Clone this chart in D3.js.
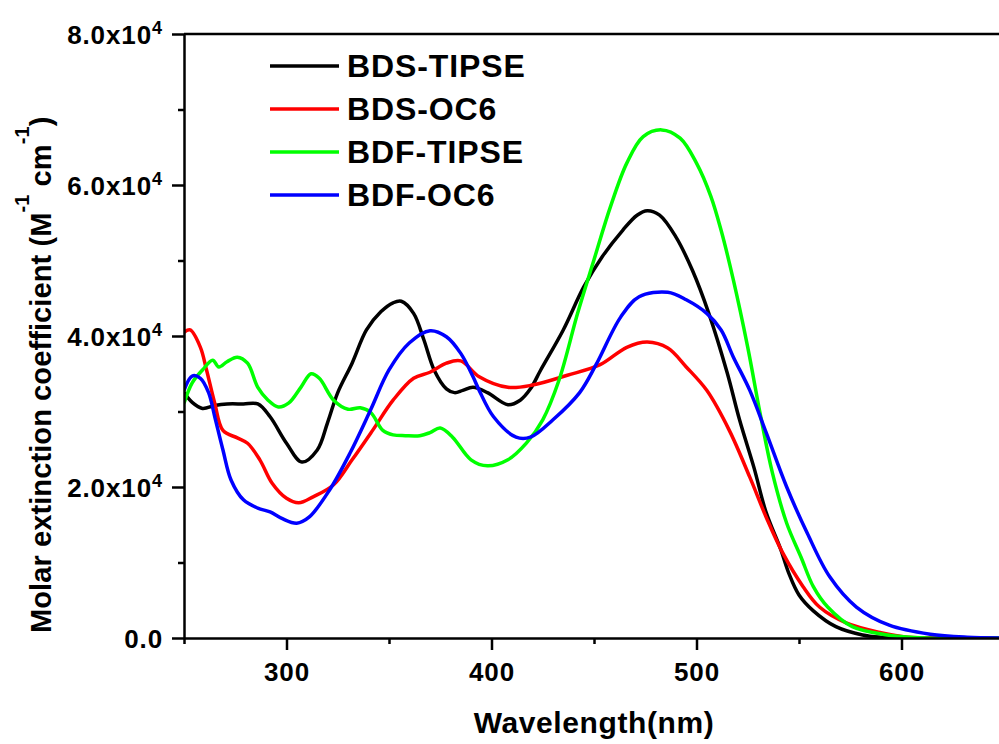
<!DOCTYPE html>
<html>
<head>
<meta charset="utf-8">
<script src="https://cdn.jsdelivr.net/npm/d3@7"></script>
<style>
  body { margin: 0; background: #fff; }
  svg text { font-family: "Liberation Sans", Arial, sans-serif; font-weight: bold; fill: #000; }
</style>
</head>
<body>
<div id="chart"></div>
<script>
// UV-vis spectra: molar extinction coefficient (x10^4 M-1 cm-1) vs wavelength (nm)

var seriesNames = ['BDS-TIPSE', 'BDS-OC6', 'BDF-TIPSE', 'BDF-OC6'];
var seriesColors = ['#000000', '#ff0000', '#00ff00', '#0000ff'];

var bdsTipseWl = [250, 254, 259, 265, 271, 279, 286, 292, 300, 307.5, 315, 320, 325, 332, 339, 346, 352, 356, 362, 367, 372, 378, 382, 386, 391, 398, 408, 414, 419, 424, 435, 445, 454, 464, 471, 476, 482, 490, 498, 506, 515, 521, 528, 534, 541, 545, 550, 557, 568, 581, 590, 600, 620, 650];
var bdsTipseEps = [3.25, 3.12, 3.04, 3.08, 3.10, 3.10, 3.10, 2.93, 2.58, 2.33, 2.49, 2.85, 3.25, 3.64, 4.08, 4.32, 4.44, 4.46, 4.30, 3.95, 3.55, 3.30, 3.25, 3.28, 3.32, 3.25, 3.09, 3.15, 3.30, 3.55, 4.08, 4.65, 5.05, 5.40, 5.60, 5.66, 5.60, 5.31, 4.87, 4.30, 3.51, 2.89, 2.26, 1.66, 1.18, 0.86, 0.57, 0.36, 0.15, 0.04, 0.01, 0, 0, 0];

var bdsOc6Wl = [250, 253, 258, 261, 265, 269, 276, 281, 287, 293, 300, 306, 313, 323, 332, 342, 352, 362, 370, 378, 385, 394, 408, 420, 437, 453, 466, 476, 486, 495, 505, 516, 526, 534, 542, 552, 560, 573, 590, 603, 620, 650];
var bdsOc6Eps = [4.05, 4.08, 3.85, 3.55, 3.11, 2.75, 2.65, 2.58, 2.36, 2.05, 1.85, 1.79, 1.87, 2.03, 2.36, 2.75, 3.15, 3.44, 3.52, 3.64, 3.67, 3.46, 3.32, 3.35, 3.48, 3.62, 3.85, 3.92, 3.84, 3.59, 3.28, 2.75, 2.13, 1.60, 1.13, 0.68, 0.41, 0.20, 0.07, 0.01, 0, 0];

var bdfTipseWl = [250, 254, 259, 264, 267, 271, 276, 281, 286, 291, 296, 301, 307, 312, 316, 323, 330, 336, 341, 347, 352, 358, 365, 370, 375, 381, 390, 398, 408, 417, 425, 433, 442, 450, 458, 466, 474, 483, 492, 500, 507, 512, 518, 525, 531, 537, 544, 551, 557, 564, 576, 593, 612, 650];
var bdfTipseEps = [3.11, 3.38, 3.55, 3.68, 3.59, 3.66, 3.72, 3.64, 3.32, 3.15, 3.06, 3.11, 3.32, 3.50, 3.44, 3.15, 3.03, 3.05, 2.99, 2.75, 2.69, 2.68, 2.68, 2.72, 2.78, 2.66, 2.36, 2.28, 2.36, 2.58, 2.89, 3.42, 4.30, 5.01, 5.71, 6.29, 6.64, 6.73, 6.62, 6.29, 5.85, 5.40, 4.74, 3.85, 2.98, 2.19, 1.52, 1.07, 0.68, 0.41, 0.15, 0.04, 0, 0];

var bdfOc6Wl = [250, 254, 258, 262, 265, 269, 273, 279, 286, 292, 298, 305, 311, 321, 331, 341, 350, 360, 370, 378, 385, 391, 394, 401, 412, 419, 430, 443, 451, 463, 472, 486, 495, 505, 512, 518, 526, 534, 544, 554, 565, 578, 594, 614, 632, 650];
var bdfOc6Eps = [3.28, 3.47, 3.44, 3.25, 2.93, 2.49, 2.09, 1.83, 1.72, 1.67, 1.58, 1.52, 1.60, 1.96, 2.45, 3.02, 3.55, 3.91, 4.07, 3.99, 3.77, 3.46, 3.28, 2.93, 2.66, 2.66, 2.89, 3.25, 3.62, 4.25, 4.52, 4.58, 4.48, 4.30, 4.08, 3.72, 3.28, 2.72, 2.00, 1.39, 0.81, 0.41, 0.17, 0.05, 0.01, 0];

var xMajorTicks = [300, 400, 500, 600];
var xMinorTicks = [250, 350, 450, 550, 650];
var yMajorTicks = [0, 2, 4, 6, 8];
var yMinorTicks = [1, 3, 5, 7];
var yTickMantissa = ['0.0', '2.0', '4.0', '6.0', '8.0'];

var w = 999;
var h = 744;

var series = [
  {name: seriesNames[0], color: seriesColors[0], wl: bdsTipseWl, eps: bdsTipseEps},
  {name: seriesNames[1], color: seriesColors[1], wl: bdsOc6Wl, eps: bdsOc6Eps},
  {name: seriesNames[2], color: seriesColors[2], wl: bdfTipseWl, eps: bdfTipseEps},
  {name: seriesNames[3], color: seriesColors[3], wl: bdfOc6Wl, eps: bdfOc6Eps}
];

var x = d3.scaleLinear().domain([250, 650]).range([184, 1004]);
var y = d3.scaleLinear().domain([0, 8]).range([638, 34]);

var svg = d3.select('#chart')
  .append('svg')
  .attr('width', w)
  .attr('height', h);

svg.append('defs').append('clipPath')
  .attr('id', 'plot-clip')
  .append('rect')
  .attr('x', x(250))
  .attr('y', y(8))
  .attr('width', x(650) - x(250))
  .attr('height', y(0) - y(8));

// curves
var line = d3.line()
  .x(d => x(d[0]))
  .y(d => y(d[1]))
  .curve(d3.curveCatmullRom.alpha(0.5));

svg.append('g')
  .attr('clip-path', 'url(#plot-clip)')
  .selectAll('path')
  .data(series)
  .enter()
  .append('path')
  .attr('d', s => line(s.wl.map((v, i) => [v, s.eps[i]])))
  .attr('fill', 'none')
  .attr('stroke', s => s.color)
  .attr('stroke-width', 3.5)
  .attr('stroke-linejoin', 'round');

// frame top line
svg.append('line')
  .attr('x1', x(250)).attr('x2', x(650))
  .attr('y1', y(8)).attr('y2', y(8))
  .attr('stroke', '#000').attr('stroke-width', 2.5);

function styleAxis(g) {
  g.attr('font-size', null).attr('font-family', null);
  g.select('.domain').attr('stroke-width', 2.5);
  g.selectAll('.tick line').attr('stroke-width', 2.5);
  g.selectAll('.tick text').attr('font-size', 26).attr('letter-spacing', 0.9);
}

// x axis
svg.append('g')
  .attr('transform', 'translate(0,' + y(0) + ')')
  .call(d3.axisBottom(x).tickValues(xMajorTicks).tickFormat(d3.format('d')).tickSize(12).tickSizeOuter(0).tickPadding(6))
  .call(styleAxis)
  .call(g => g.selectAll('.tick text').attr('dy', '0.95em'));

svg.append('g')
  .attr('transform', 'translate(0,' + y(0) + ')')
  .call(d3.axisBottom(x).tickValues(xMinorTicks).tickFormat('').tickSize(6).tickSizeOuter(0))
  .call(styleAxis)
  .call(g => g.select('.domain').remove());

// y axis
svg.append('g')
  .attr('transform', 'translate(' + x(250) + ',0)')
  .call(d3.axisLeft(y).tickValues(yMajorTicks).tickSize(12).tickSizeOuter(0).tickPadding(9))
  .call(styleAxis)
  .call(g => g.selectAll('.tick text').each(function(d, i) {
    var t = d3.select(this).text(yTickMantissa[i]).attr('dy', '0.35em');
    if (d > 0) {
      t.append('tspan').text('x10');
      t.append('tspan').attr('font-size', 18).attr('dy', -10).text('4');
    }
  }));

svg.append('g')
  .attr('transform', 'translate(' + x(250) + ',0)')
  .call(d3.axisLeft(y).tickValues(yMinorTicks).tickFormat('').tickSize(6).tickSizeOuter(0))
  .call(styleAxis)
  .call(g => g.select('.domain').remove());

// axis titles
svg.append('text')
  .attr('x', 594)
  .attr('y', 733)
  .attr('text-anchor', 'middle')
  .attr('font-size', 30)
  .attr('letter-spacing', 0.6)
  .text('Wavelength(nm)');

var yTitle = svg.append('text')
  .attr('transform', 'translate(51,633) rotate(-90)')
  .attr('font-size', 29)
  .attr('letter-spacing', 0.1);
yTitle.append('tspan').text('Molar extinction coefficient (M');
yTitle.append('tspan').attr('font-size', 20).attr('dy', -22).text('-1');
yTitle.append('tspan').attr('dy', 22).text(' cm');
yTitle.append('tspan').attr('font-size', 20).attr('dy', -22).text('-1');
yTitle.append('tspan').attr('dy', 22).text(')');

// legend
var legend = svg.selectAll('.legend')
  .data(series)
  .enter()
  .append('g')
  .attr('class', 'legend')
  .attr('transform', (d, i) => 'translate(270,' + (66 + i * 43) + ')');

legend.append('line')
  .attr('x1', 0).attr('x2', 69)
  .attr('stroke', d => d.color)
  .attr('stroke-width', 3.5);

legend.append('text')
  .attr('x', 77)
  .attr('dy', '0.33em')
  .attr('font-size', 32)
  .attr('letter-spacing', 0.9)
  .text(d => d.name);
</script>
</body>
</html>
